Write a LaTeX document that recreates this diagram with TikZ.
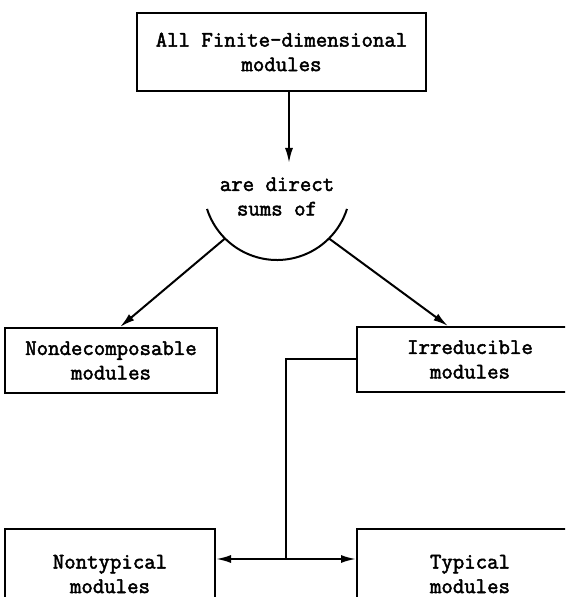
\documentclass[tikz,border=0pt]{standalone}
\usepackage{fontspec}
\setmonofont[AutoFakeBold=2.2]{Latin Modern Mono}
\usepackage{tikz}
\usetikzlibrary{positioning}
\usetikzlibrary{arrows.meta}

\begin{document}
\begin{tikzpicture}[x=1pt, y=1pt, line width=2pt,
    every node/.style={font=\ttfamily\bfseries\fontsize{22.2}{24.5}\selectfont, align=center, inner sep=0pt},
    modbox/.style={draw, line width=2pt},
    tip/.style={-{Latex[length=15pt, width=8pt]}}]

                \useasboundingbox (0,0) rectangle (565,597);
                \clip (0,0) rectangle (565,597);

                % Nodes
                \node at (281.5,545) (allmod) [modbox, minimum width=289pt, minimum height=78pt] {All Finite-dimensional\\modules};
                \node at (277,400.5) (sums) {are direct\\sums of};
                \node at (111,236.5) (nondec) [modbox, minimum width=212pt, minimum height=65pt] {Nondecomposable\\modules};
                \node at (470,237.5) (irred) [modbox, minimum width=226pt, minimum height=65pt] {Irreducible\\modules};
                \node at (110,23) (nontyp) [modbox, minimum width=210pt, minimum height=90pt, text depth=-6pt] {Nontypical\\modules};
                \node at (470,23) (typ) [modbox, minimum width=226pt, minimum height=90pt, text depth=-6pt] {Typical\\modules};

                % Bowl under the text
                \coordinate (bowl) at (277,410.5);
                \draw ([shift={(197.8:73.5)}]bowl) arc[start angle=197.8, end angle=342.2, radius=73.5];
                \coordinate (bowlL) at ([shift={(225:73.5)}]bowl);
                \coordinate (bowlR) at ([shift={(315:73.5)}]bowl);
                \coordinate (sumstop) at (289,434);
                \coordinate (split) at (286,38);

                % Arrows
                \draw[tip] ([xshift=7.5pt]allmod.south) -- (sumstop);
                \draw[tip] (bowlL) -- ([xshift=9pt]nondec.north);
                \draw[tip] (bowlR) -- ([xshift=-22pt]irred.north);
                \draw (irred.west) -| (split);
                \draw[tip] (split) -- (nontyp.east |- split);
                \draw[tip] (split) -- (typ.west |- split);

            \end{tikzpicture}
\end{document}
